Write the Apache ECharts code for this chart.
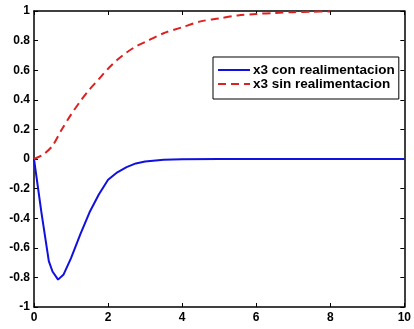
<!DOCTYPE html>
<html>
<head>
<meta charset="utf-8">
<script src="https://cdn.jsdelivr.net/npm/echarts@6/dist/echarts.min.js"></script>
<style>
  html, body { margin: 0; padding: 0; background: #fff; }
  #chart { width: 414px; height: 329px; }
</style>
</head>
<body>
<div id="chart"></div>
<script>
// x3 con realimentacion (azul, continua)
const tCon = [0, 0.2, 0.4, 0.5, 0.65, 0.8, 1.0, 1.25, 1.5, 1.75, 2.0, 2.25, 2.5, 2.75, 3.0, 3.5, 4, 5, 6, 7, 8, 9, 10];
const yCon = [0, -0.36, -0.69, -0.76, -0.815, -0.78, -0.67, -0.51, -0.36, -0.24, -0.14, -0.09, -0.055, -0.03, -0.017, -0.005, -0.001, 0, 0, 0, 0, 0, 0];
// x3 sin realimentacion (rojo, discontinua)
const tSin = [0, 0.25, 0.5, 0.75, 1.0, 1.25, 1.5, 1.75, 2.0, 2.25, 2.5, 2.75, 3.0, 3.5, 4.0, 4.5, 5.0, 5.5, 6.0, 6.5, 7.0, 7.5, 8.0];
const ySin = [0, 0.03, 0.09, 0.2, 0.3, 0.39, 0.47, 0.54, 0.61, 0.67, 0.72, 0.76, 0.79, 0.85, 0.89, 0.93, 0.95, 0.97, 0.98, 0.987, 0.992, 0.995, 0.997];
const names = ["x3 con realimentacion", "x3 sin realimentacion"];
const xTicks = [0, 2, 4, 6, 8, 10];
const yTicks = [-1, -0.8, -0.6, -0.4, -0.2, 0, 0.2, 0.4, 0.6, 0.8, 1];

const font = "Liberation Sans, Arial, sans-serif";
const pairs = (xs, ys) => xs.map((x, i) => [x, ys[i]]);

const axisBase = {
  type: "value",
  axisLine: { show: true, onZero: false, lineStyle: { color: "#000", width: 1.5 } },
  axisTick: { show: true, inside: true, length: 4, lineStyle: { color: "#000" } },
  splitLine: { show: false }
};

const myChart = echarts.init(document.getElementById("chart"), null, { renderer: "canvas" });
myChart.setOption({
  animation: false,
  backgroundColor: "#fff",
  grid: { left: 34, right: 8, top: 11, bottom: 22 },
  legend: {
    orient: "vertical",
    left: 213,
    top: 57,
    data: names,
    borderColor: "#000",
    borderWidth: 1,
    backgroundColor: "#fff",
    padding: [6, 4, 8, 4],
    itemGap: 0,
    itemWidth: 32,
    itemHeight: 13,
    itemStyle: { opacity: 0 },
    textStyle: { fontFamily: font, fontSize: 13.5, fontWeight: "bold", color: "#000", padding: [0, 0, 0, -2] }
  },
  xAxis: [
    Object.assign({}, axisBase, {
      min: 0, max: 10, interval: 2,
      axisLabel: { color: "#000", fontFamily: font, fontSize: 12, fontWeight: "bold", margin: 5,
        formatter: v => xTicks.includes(v) ? String(v) : "" }
    }),
    Object.assign({}, axisBase, { position: "top", min: 0, max: 10, interval: 2, axisLabel: { show: false } })
  ],
  yAxis: [
    Object.assign({}, axisBase, {
      min: -1, max: 1, interval: 0.2,
      axisLabel: { color: "#000", fontFamily: font, fontSize: 12, fontWeight: "bold", margin: 4,
        formatter: v => { const r = Math.round(v * 10) / 10; return yTicks.includes(r) ? String(r) : ""; } }
    }),
    Object.assign({}, axisBase, { position: "right", min: -1, max: 1, interval: 0.2, axisLabel: { show: false } })
  ],
  series: [
    {
      name: names[0],
      type: "line",
      data: pairs(tCon, yCon),
      showSymbol: false,
      symbol: "none",
      smooth: false,
      lineStyle: { color: "#1010e0", width: 2 },
      itemStyle: { color: "#1010e0" }
    },
    {
      name: names[1],
      type: "line",
      data: pairs(tSin, ySin),
      showSymbol: false,
      symbol: "none",
      smooth: 0.3,
      lineStyle: { color: "#dd2020", width: 2, type: [8, 5] },
      itemStyle: { color: "#dd2020" }
    }
  ]
});
</script>
</body>
</html>
